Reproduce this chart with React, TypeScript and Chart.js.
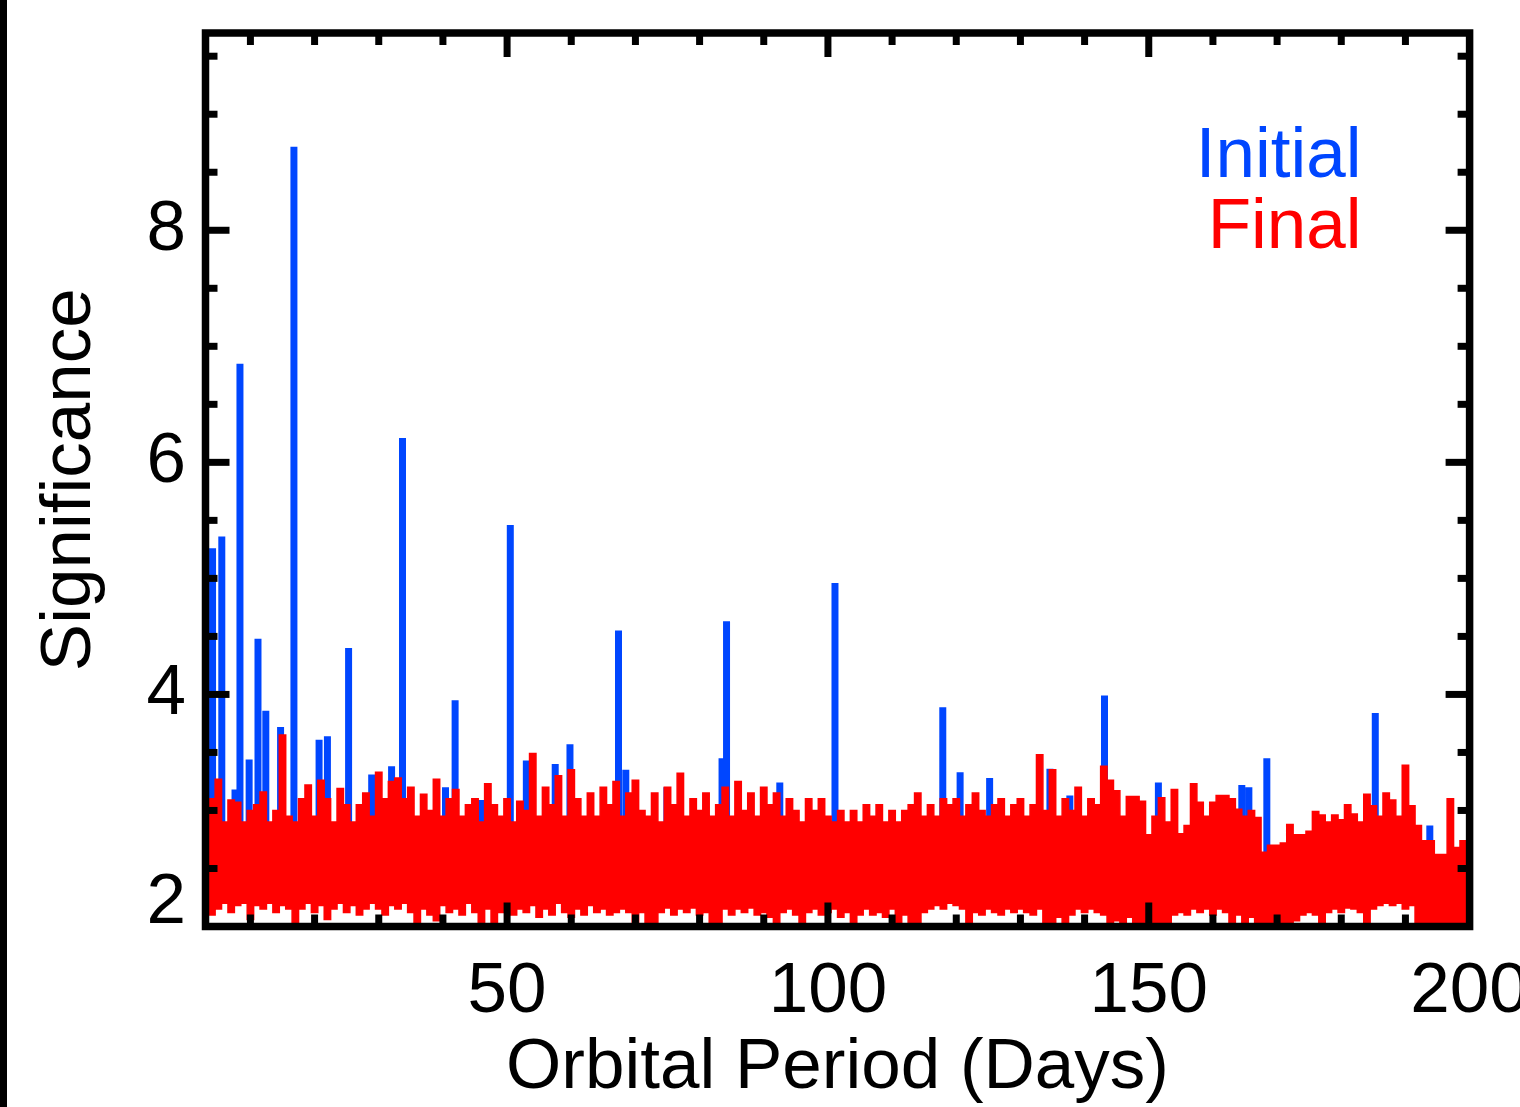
import React, { useEffect, useRef } from 'react';
import { Chart, registerables } from 'chart.js';

Chart.register(...registerables);

// ---------- axes ----------
const X_MIN = 3;
const X_MAX = 200;
const Y_MIN = 2;
const Y_MAX = 9.7;
const xTickValues = [50, 100, 150, 200];
const yTickValues = [2, 4, 6, 8];
const X_MINOR_STEP = 10;
const Y_MINOR_STEP = 0.5;

const X_TITLE = 'Orbital Period (Days)';
const Y_TITLE = 'Significance';

// ---------- "Final" series (red): envelope of the dense periodogram, one value per day ----------
const FINAL_FIRST_DAY = 3;
const finalHigh = [
  2.95, 3.10, 3.27, 2.90, 3.09, 3.07, 2.90, 3.00, 3.05, 3.16, // 3-12
  2.90, 3.00, 3.65, 2.95, 2.90, 3.10, 3.22, 2.95, 3.26, 3.10, // 13-22
  2.90, 3.19, 3.05, 2.90, 3.05, 3.15, 2.95, 3.33, 3.10, 3.25, // 23-32
  3.28, 3.10, 3.20, 2.95, 3.14, 3.00, 3.27, 2.95, 3.10, 3.18, // 33-42
  2.95, 3.05, 3.10, 2.90, 3.23, 3.05, 2.95, 3.10, 2.90, 3.08, // 43-52
  3.00, 3.49, 2.95, 3.20, 3.05, 3.30, 2.95, 3.35, 3.10, 2.95, // 53-62
  3.15, 2.95, 3.20, 3.05, 3.25, 2.95, 3.15, 3.26, 3.00, 2.95, // 63-72
  3.15, 2.90, 3.20, 3.05, 3.32, 2.95, 3.10, 3.00, 3.15, 2.95, // 73-82
  3.05, 3.20, 2.95, 3.25, 3.00, 3.15, 2.95, 3.20, 3.05, 3.15, // 83-92
  2.95, 3.10, 3.00, 2.90, 3.10, 3.00, 3.10, 2.95, 2.90, 3.00, // 93-102
  2.90, 3.00, 2.90, 3.05, 2.95, 3.05, 2.90, 3.00, 2.90, 3.00, // 103-112
  3.05, 3.15, 2.95, 3.05, 2.95, 3.10, 3.05, 3.10, 2.95, 3.05, // 113-122
  3.15, 3.00, 2.95, 3.05, 3.10, 2.95, 3.05, 3.10, 2.95, 3.05, // 123-132
  3.48, 3.00, 3.35, 2.95, 3.10, 3.00, 3.20, 2.95, 3.10, 3.05, // 133-142
  3.38, 3.26, 3.17, 2.95, 3.12, 3.12, 3.08, 2.79, 2.95, 3.11, // 143-152
  2.90, 3.18, 2.80, 2.87, 3.23, 3.07, 2.95, 3.07, 3.13, 3.13, // 153-162
  3.10, 3.01, 2.95, 3.00, 2.94, 2.64, 2.70, 2.70, 2.72, 2.88, // 163-172
  2.79, 2.79, 2.82, 2.99, 2.96, 2.90, 2.96, 2.92, 3.05, 2.97, // 173-182
  2.90, 3.14, 3.04, 2.95, 3.15, 3.09, 2.95, 3.39, 3.04, 2.87, // 183-192
  2.74, 2.74, 2.62, 2.62, 3.10, 2.68, 2.74, 2.54,             // 193-200
];
const finalLow = [
  2.20, 2.10, 2.15, 2.20, 2.12, 2.18, 2.20, 2.06, 2.18, 2.15, // 3-12
  2.20, 2.12, 2.18, 2.15, 2.00, 2.15, 2.20, 2.12, 2.18, 2.06, // 13-22
  2.15, 2.20, 2.12, 2.18, 2.10, 2.15, 2.20, 2.15, 2.10, 2.18, // 23-32
  2.15, 2.20, 2.12, 2.00, 2.15, 2.10, 2.05, 2.18, 2.12, 2.15, // 33-42
  2.10, 2.20, 2.12, 2.00, 2.15, 2.03, 2.12, 2.18, 2.10, 2.15, // 43-52
  2.12, 2.18, 2.08, 2.15, 2.10, 2.20, 2.12, 2.08, 2.15, 2.10, // 53-62
  2.18, 2.12, 2.15, 2.10, 2.12, 2.15, 2.12, 2.00, 2.12, 2.00, // 63-72
  2.00, 2.12, 2.16, 2.10, 2.15, 2.12, 2.16, 2.10, 2.12, 2.00, // 73-82
  2.00, 2.15, 2.10, 2.15, 2.12, 2.16, 2.10, 2.12, 2.08, 2.00, // 83-92
  2.12, 2.15, 2.10, 2.00, 2.12, 2.15, 2.10, 2.12, 2.15, 2.08, // 93-102
  2.12, 2.00, 2.10, 2.15, 2.10, 2.12, 2.08, 2.15, 2.00, 2.10, // 103-112
  2.00, 2.00, 2.12, 2.15, 2.18, 2.15, 2.20, 2.18, 2.15, 2.00, // 113-122
  2.12, 2.10, 2.15, 2.12, 2.10, 2.15, 2.12, 2.15, 2.12, 2.10, // 123-132
  2.15, 2.00, 2.00, 2.08, 2.00, 2.10, 2.15, 2.12, 2.15, 2.12, // 133-142
  2.10, 2.00, 2.05, 2.00, 2.08, 2.00, 2.00, 2.02, 2.00, 2.00, // 143-152
  2.00, 2.10, 2.12, 2.10, 2.15, 2.12, 2.15, 2.10, 2.15, 2.12, // 153-162
  2.00, 2.10, 2.00, 2.08, 2.00, 2.00, 2.00, 2.00, 2.00, 2.00, // 163-172
  2.05, 2.10, 2.12, 2.10, 2.00, 2.12, 2.15, 2.12, 2.16, 2.15, // 173-182
  2.12, 2.00, 2.15, 2.18, 2.20, 2.18, 2.20, 2.15, 2.18, 2.00, // 183-192
  2.00, 2.00, 2.02, 2.00, 2.00, 2.02, 2.00, 2.00,             // 193-200
];

// ---------- "Initial" series (blue): visible peaks above the red band ----------
const INITIAL_BASE = 2.5; // hidden level under the red band
const initialPeakDays = [
  3.1, 3.5, 4.1, 5.54, 7.6, 8.37, 9.8, 11.18, 12.4, 14.7,
  16.78, 20.7, 22.0, 25.3, 28.9, 32.0, 33.7, 40.4, 41.9, 46.0,
  50.5, 53.0, 57.5, 59.8, 67.36, 68.5, 74.9, 83.5, 84.2, 92.5,
  101.1, 117.9, 120.6, 125.2, 134.6, 137.7, 143.1, 151.5, 164.5, 165.6,
  168.4, 185.3, 193.8,
];
const initialPeakValues = [
  3.33, 3.5, 5.26, 5.36, 3.18, 6.85, 3.44, 4.48, 3.86, 3.72,
  8.72, 3.61, 3.64, 4.40, 3.31, 3.38, 6.21, 3.2, 3.95, 3.09,
  5.46, 3.43, 3.4, 3.57, 4.55, 3.35, 3.2, 3.45, 4.63, 3.24,
  4.96, 3.89, 3.33, 3.28, 3.36, 3.13, 3.99, 3.24, 3.22, 3.2,
  3.45, 3.84, 2.87,
];

const BLUE = '#0046FF';
const RED = '#FF0000';
const FONT = '"Liberation Sans", Arial, Helvetica, sans-serif';
const FONT_SIZE = 71;

const legendItems = [
  { text: 'Initial', color: BLUE },
  { text: 'Final', color: RED },
];

const W = 1520;
const H = 1107;

function buildFinal(values: number[]) {
  return values.map((y, i) => ({ x: FINAL_FIRST_DAY + i, y }));
}

function buildInitial() {
  const pts: { x: number; y: number }[] = [];
  initialPeakDays.forEach((d, i) => {
    pts.push({ x: d, y: INITIAL_BASE });
    pts.push({ x: d, y: initialPeakValues[i] });
    pts.push({ x: d, y: INITIAL_BASE });
  });
  return pts;
}

const framePlugin = {
  id: 'idlFrame',
  afterDraw(chart: any) {
    const { ctx, chartArea: a, scales } = chart;
    const xs = scales.x;
    const ys = scales.y;
    ctx.save();
    ctx.strokeStyle = '#000';
    ctx.lineJoin = 'miter';
    ctx.lineCap = 'butt';
    ctx.lineWidth = 7.5;
    ctx.strokeRect(a.left, a.top, a.right - a.left, a.bottom - a.top);

    ctx.lineWidth = 7;
    const seg = (x1: number, y1: number, x2: number, y2: number) => {
      ctx.beginPath();
      ctx.moveTo(x1, y1);
      ctx.lineTo(x2, y2);
      ctx.stroke();
    };
    const MAJOR = 24;
    const MINOR = 12;
    // x ticks (inward on bottom and top)
    const nx = Math.round(X_MAX / X_MINOR_STEP);
    for (let i = 1; i <= nx; i++) {
      const v = i * X_MINOR_STEP;
      if (v <= X_MIN || v >= X_MAX) continue;
      const len = xTickValues.includes(v) ? MAJOR : MINOR;
      const px = xs.getPixelForValue(v);
      seg(px, a.bottom, px, a.bottom - len);
      seg(px, a.top, px, a.top + len);
    }
    // y ticks (inward on left and right)
    const ny = Math.round((Y_MAX - Y_MIN) / Y_MINOR_STEP);
    for (let i = 1; i <= ny; i++) {
      const v = Y_MIN + i * Y_MINOR_STEP;
      if (v >= Y_MAX) continue;
      const len = yTickValues.includes(v) ? MAJOR : MINOR;
      const py = ys.getPixelForValue(v);
      seg(a.left, py, a.left + len, py);
      seg(a.right, py, a.right - len, py);
    }

    // legend text
    ctx.font = `${FONT_SIZE}px ${FONT}`;
    ctx.textAlign = 'right';
    ctx.textBaseline = 'alphabetic';
    legendItems.forEach((it, i) => {
      ctx.fillStyle = it.color;
      ctx.fillText(it.text, a.right - 108, a.top + 144 + i * 70.7);
    });
    ctx.restore();
  },
};

export default function App() {
  const ref = useRef<HTMLCanvasElement>(null);

  useEffect(() => {
    if (!ref.current) return;
    const chart = new Chart(ref.current, {
      type: 'line',
      data: {
        datasets: [
          {
            label: 'Final',
            data: buildFinal(finalHigh),
            stepped: 'middle',
            borderColor: RED,
            borderWidth: 1.5,
            backgroundColor: RED,
            fill: '+1',
            pointRadius: 0,
          },
          {
            label: 'Final (lower envelope)',
            data: buildFinal(finalLow),
            stepped: 'middle',
            borderColor: RED,
            borderWidth: 1.5,
            backgroundColor: RED,
            fill: false,
            pointRadius: 0,
          },
          {
            label: 'Initial',
            data: buildInitial(),
            borderColor: BLUE,
            borderWidth: 7,
            borderJoinStyle: 'miter',
            borderCapStyle: 'butt',
            fill: false,
            pointRadius: 0,
            tension: 0,
          },
        ],
      } as any,
      options: {
        animation: false,
        responsive: false,
        devicePixelRatio: 1,
        events: [],
        layout: { padding: { top: 33, right: 50.4, bottom: 0, left: 0 } },
        plugins: {
          legend: { display: false },
          tooltip: { enabled: false },
        },
        scales: {
          x: {
            type: 'linear',
            min: X_MIN,
            max: X_MAX,
            grid: { display: false, drawTicks: false },
            border: { display: false },
            afterBuildTicks: (s: any) => {
              s.ticks = xTickValues.map((v) => ({ value: v }));
            },
            afterFit: (s: any) => {
              s.height = 180.5;
              s.paddingLeft = 0;
              s.paddingRight = 0;
            },
            ticks: {
              color: '#000',
              font: { family: FONT, size: FONT_SIZE, lineHeight: 1 },
              padding: 30,
              maxRotation: 0,
              autoSkip: false,
              callback: (v: any) => String(v),
            },
            title: {
              display: true,
              text: X_TITLE,
              color: '#000',
              font: { family: FONT, size: FONT_SIZE, lineHeight: 1 },
              padding: { top: 0, bottom: 3 },
            },
          },
          y: {
            type: 'linear',
            min: Y_MIN,
            max: Y_MAX,
            grid: { display: false, drawTicks: false },
            border: { display: false },
            afterBuildTicks: (s: any) => {
              s.ticks = yTickValues.map((v) => ({ value: v }));
            },
            afterFit: (s: any) => {
              s.width = 205.5;
              s.paddingTop = 0;
              s.paddingBottom = 0;
            },
            ticks: {
              color: '#000',
              font: { family: FONT, size: FONT_SIZE, lineHeight: '47px' },
              padding: 19.5,
              autoSkip: false,
              callback: (v: any) => (v === Y_MIN ? [String(v), ''] : String(v)),
            },
            title: {
              display: true,
              text: Y_TITLE,
              color: '#000',
              font: { family: FONT, size: FONT_SIZE, lineHeight: 1 },
              padding: { top: 35, bottom: 0 },
            },
          },
        },
      } as any,
      plugins: [framePlugin],
    });
    return () => chart.destroy();
  }, []);

  return (
    <div style={{ position: 'absolute', left: 0, top: 0, width: W, height: H, background: '#fff', overflow: 'hidden' }}>
      <canvas ref={ref} width={W} height={H} style={{ display: 'block' }} />
      <div style={{ position: 'absolute', left: 0, top: 0, width: 7, height: H, background: '#000' }} />
    </div>
  );
}
